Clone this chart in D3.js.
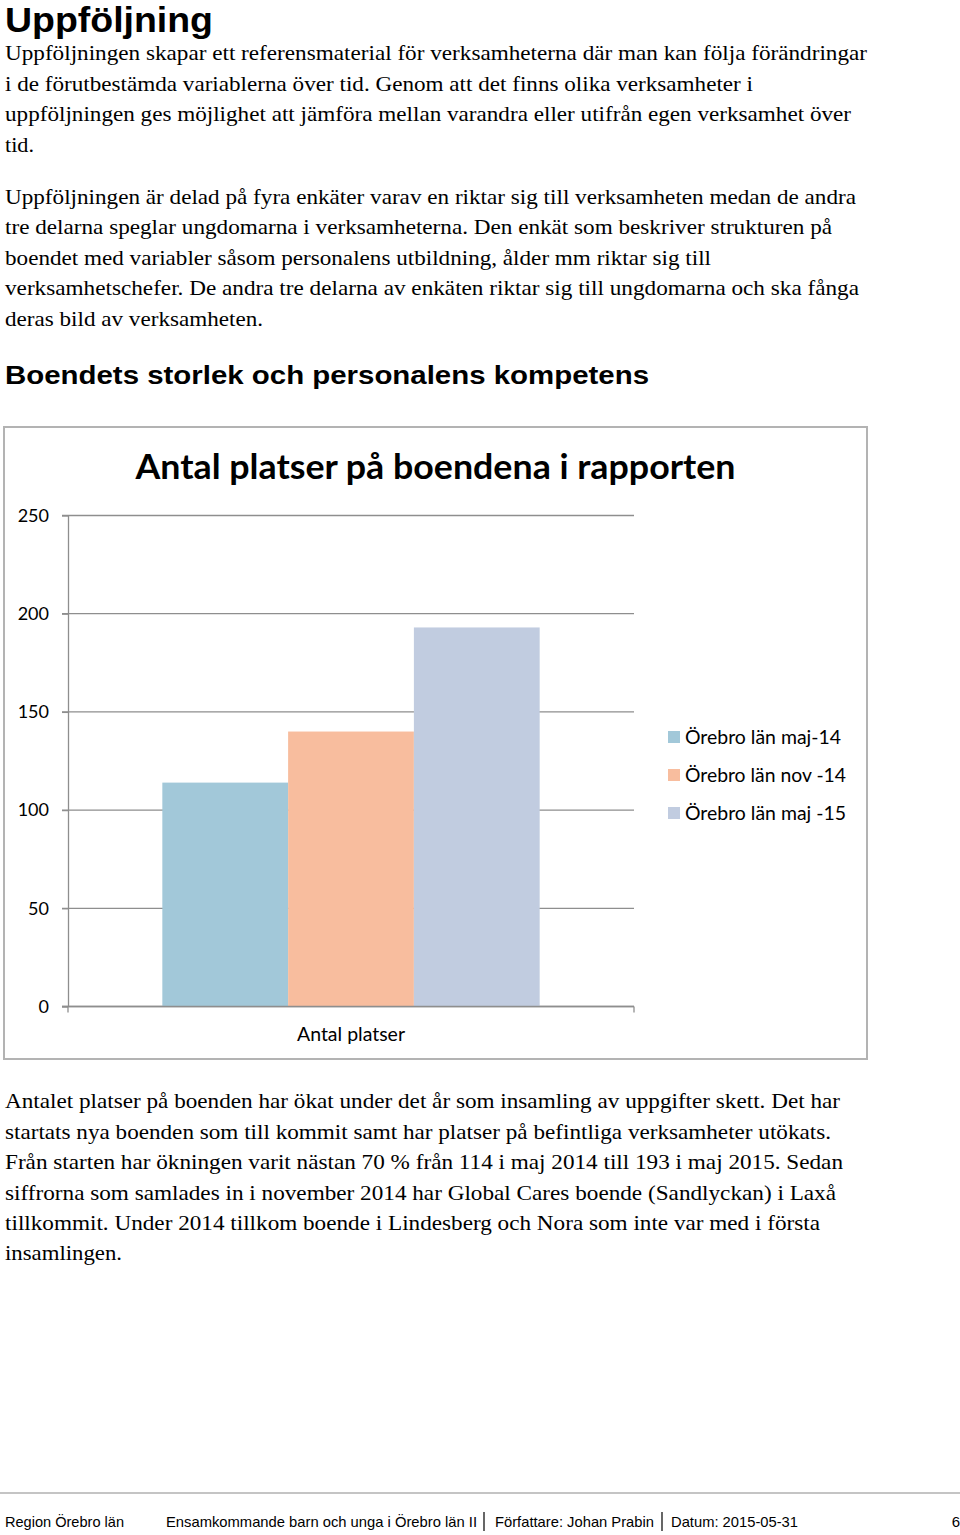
<!DOCTYPE html>
<html>
<head>
<meta charset="utf-8">
<script src="https://cdn.jsdelivr.net/npm/d3@7"></script>
<style>
  html, body { margin: 0; padding: 0; background: #fff; }
  svg { display: block; }
</style>
</head>
<body>
<svg id="page" width="960" height="1535"></svg>
<script>
// ---------- data ----------
const categories = ["Antal platser"];
const seriesNames = ["Örebro län maj-14", "Örebro län nov -14", "Örebro län maj -15"];
const seriesValues = [114, 140, 193];
const seriesColors = ["#a2c8d9", "#f8bd9e", "#c1cce0"];
const yTicks = [0, 50, 100, 150, 200, 250];
const chartTitle = "Antal platser på boendena i rapporten";

const pageHeading = "Uppföljning";
const sectionHeading = "Boendets storlek och personalens kompetens";
const para1 = [
  ["Uppföljningen skapar ett referensmaterial för verksamheterna där man kan följa förändringar", 862],
  ["i de förutbestämda variablerna över tid. Genom att det finns olika verksamheter i", 748],
  ["uppföljningen ges möjlighet att jämföra mellan varandra eller utifrån egen verksamhet över", 846],
  ["tid.", 29]
];
const para2 = [
  ["Uppföljningen är delad på fyra enkäter varav en riktar sig till verksamheten medan de andra", 851],
  ["tre delarna speglar ungdomarna i verksamheterna. Den enkät som beskriver strukturen på", 827],
  ["boendet med variabler såsom personalens utbildning, ålder mm riktar sig till", 706],
  ["verksamhetschefer. De andra tre delarna av enkäten riktar sig till ungdomarna och ska fånga", 854],
  ["deras bild av verksamheten.", 258]
];
const para3 = [
  ["Antalet platser på boenden har ökat under det år som insamling av uppgifter skett. Det har", 835],
  ["startats nya boenden som till kommit samt har platser på befintliga verksamheter utökats.", 826],
  ["Från starten har ökningen varit nästan 70 % från 114 i maj 2014 till 193 i maj 2015. Sedan", 838],
  ["siffrorna som samlades in i november 2014 har Global Cares boende (Sandlyckan) i Laxå", 831],
  ["tillkommit. Under 2014 tillkom boende i Lindesberg och Nora som inte var med i första", 815],
  ["insamlingen.", 117]
];
const legendWidths = [156, 161, 161];
const footerItems = [
  ["Region Örebro län", 5, 119],
  ["Ensamkommande barn och unga i Örebro län II", 166, 311],
  ["Författare: Johan Prabin", 495, 159],
  ["Datum: 2015-05-31", 671, 127]
];
const footerSeparators = [484, 662];
const pageNumber = "6";

// ---------- page text ----------
const svg = d3.select("#page");
const serif = "'Liberation Serif', 'Times New Roman', serif";
const sans = "'Liberation Sans', Arial, sans-serif";
const calibri = "Lato, 'Open Sans', sans-serif";

svg.append("text").attr("x", 5).attr("y", 32)
  .attr("font-family", sans).attr("font-weight", "bold").attr("font-size", 35)
  .attr("textLength", 208).attr("lengthAdjust", "spacingAndGlyphs")
  .text(pageHeading);

function paragraph(lines, y0, lh) {
  svg.append("g").selectAll("text").data(lines).join("text")
    .attr("x", 5).attr("y", (d, i) => y0 + i * lh)
    .attr("font-family", serif).attr("font-size", 21.4).attr("fill", "#000")
    .attr("textLength", d => d[1]).attr("lengthAdjust", "spacingAndGlyphs")
    .text(d => d[0]);
}
paragraph(para1, 60, 30.6);
paragraph(para2, 203.5, 30.6);
paragraph(para3, 1108.3, 30.4);

svg.append("text").attr("x", 5).attr("y", 384)
  .attr("font-family", sans).attr("font-weight", "bold").attr("font-size", 26.5)
  .attr("textLength", 644).attr("lengthAdjust", "spacingAndGlyphs")
  .text(sectionHeading);

// ---------- chart ----------
const box = { x: 4, y: 427, w: 863, h: 632 };
svg.append("rect").attr("x", box.x).attr("y", box.y).attr("width", box.w).attr("height", box.h)
  .attr("fill", "#fff").attr("stroke", "#b3b3b3").attr("stroke-width", 2);

svg.append("text").attr("x", box.x + box.w / 2).attr("y", 479)
  .attr("text-anchor", "middle")
  .attr("font-family", calibri).attr("font-weight", "bold").attr("font-size", 34)
  .attr("textLength", 600).attr("lengthAdjust", "spacingAndGlyphs")
  .text(chartTitle);

const plotL = 68, plotR = 634, plotT = 515.5, plotB = 1006.5;
const y = d3.scaleLinear().domain([0, 250]).range([plotB, plotT]);
const x0 = d3.scaleBand().domain(categories).range([plotL, plotR]).padding(0);
const x1 = d3.scaleBand().domain(seriesNames).range([0, x0.bandwidth()])
  .paddingInner(0).paddingOuter(0.75);

const gridColor = "#8e8e8e";
// gridlines
svg.append("g").selectAll("line").data(yTicks).join("line")
  .attr("x1", plotL - 6).attr("x2", plotR)
  .attr("y1", d => y(d)).attr("y2", d => y(d))
  .attr("stroke", gridColor).attr("stroke-width", 1.3);

// bars
const cat = svg.append("g").selectAll("g").data(categories).join("g")
  .attr("transform", d => `translate(${x0(d)},0)`);
cat.selectAll("rect").data(seriesNames.map((n, i) => ({ n, v: seriesValues[i], c: seriesColors[i] })))
  .join("rect")
  .attr("x", d => x1(d.n)).attr("width", x1.bandwidth())
  .attr("y", d => y(d.v)).attr("height", d => y(0) - y(d.v))
  .attr("fill", d => d.c);

// zero line over bars
svg.append("line").attr("x1", plotL - 6).attr("x2", plotR)
  .attr("y1", y(0)).attr("y2", y(0)).attr("stroke", gridColor).attr("stroke-width", 1.3);

// y axis
const yAxis = d3.axisLeft(y).tickValues(yTicks).tickSize(6).tickSizeOuter(0).tickPadding(13);
const gy = svg.append("g").attr("transform", `translate(${plotL},0)`).call(yAxis);
gy.select(".domain").attr("stroke", gridColor).attr("stroke-width", 1.3);
gy.selectAll(".tick line").attr("stroke", gridColor).attr("stroke-width", 1.3);
gy.selectAll(".tick text").attr("font-family", calibri).attr("font-size", 18).attr("fill", "#000");

// x axis
const xAxis = d3.axisBottom(x0).tickSize(0).tickPadding(0);
const gx = svg.append("g").attr("transform", `translate(0,${plotB})`).call(xAxis);
gx.select(".domain").remove();
gx.selectAll(".tick text").attr("font-family", calibri).attr("font-size", 19.5).attr("fill", "#000")
  .attr("dy", 0).attr("y", 34.5)
  .attr("textLength", 108).attr("lengthAdjust", "spacingAndGlyphs");
// category boundary ticks
svg.append("g").selectAll("line").data([plotL, plotR]).join("line")
  .attr("x1", d => d).attr("x2", d => d).attr("y1", plotB).attr("y2", plotB + 6)
  .attr("stroke", gridColor).attr("stroke-width", 1.3);

// legend
const legend = svg.append("g").selectAll("g").data(seriesNames).join("g")
  .attr("transform", (d, i) => `translate(668,${737 + i * 38})`);
legend.append("rect").attr("x", 0).attr("y", -6).attr("width", 12).attr("height", 12)
  .attr("fill", (d, i) => seriesColors[i]);
legend.append("text").attr("x", 17).attr("dy", "0.36em")
  .attr("font-family", calibri).attr("font-size", 19.5).attr("fill", "#000")
  .attr("textLength", (d, i) => legendWidths[i]).attr("lengthAdjust", "spacingAndGlyphs")
  .text(d => d);

// ---------- footer ----------
svg.append("line").attr("x1", 0).attr("x2", 960).attr("y1", 1493).attr("y2", 1493)
  .attr("stroke", "#c4c4c4").attr("stroke-width", 2);
svg.append("g").selectAll("text").data(footerItems).join("text")
  .attr("x", d => d[1]).attr("y", 1527)
  .attr("font-family", sans).attr("font-size", 15).attr("fill", "#000")
  .attr("textLength", d => d[2]).attr("lengthAdjust", "spacingAndGlyphs")
  .text(d => d[0]);
svg.append("g").selectAll("line").data(footerSeparators).join("line")
  .attr("x1", d => d).attr("x2", d => d).attr("y1", 1512).attr("y2", 1531)
  .attr("stroke", "#000").attr("stroke-width", 1.2);
svg.append("text").attr("x", 960).attr("y", 1527).attr("text-anchor", "end")
  .attr("font-family", sans).attr("font-size", 15).text(pageNumber);
</script>
</body>
</html>
